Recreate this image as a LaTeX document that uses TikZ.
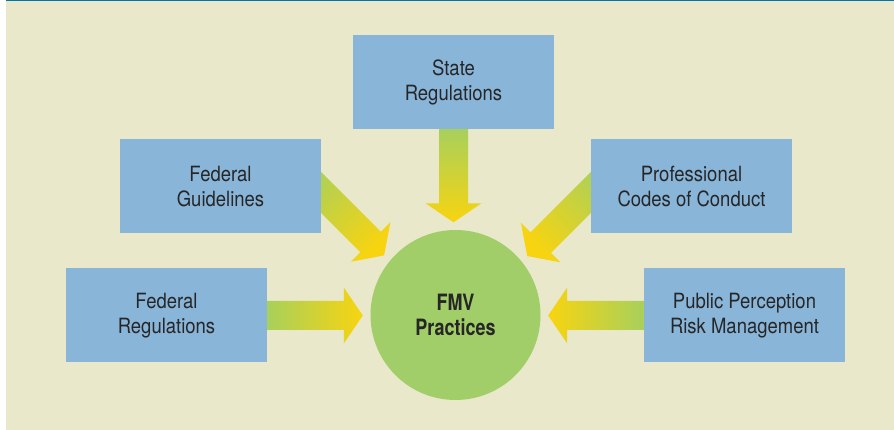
\documentclass[tikz,border=0pt]{standalone}
\usepackage{fontspec}
\setmainfont{TeX Gyre Heros}[FakeStretch=0.88, BoldFeatures={FakeStretch=0.8}]
\usetikzlibrary{calc,backgrounds}

\definecolor{panelbg}{RGB}{233,232,203}
\definecolor{panelrule}{RGB}{0,118,170}
\definecolor{boxblue}{RGB}{137,181,217}
\definecolor{discgreen}{RGB}{161,206,104}
\definecolor{flowgreen}{RGB}{168,208,92}
\definecolor{flowyellow}{RGB}{248,212,16}
\definecolor{labelgray}{RGB}{38,38,38}

\tikzset{
    inputbox/.style={rectangle, fill=boxblue, minimum width=201pt, minimum height=94pt,
        inner sep=0pt, align=center, text=labelgray, font=\fontsize{21}{25}\selectfont},
    practice/.style={circle, fill=discgreen, minimum size=170pt, inner sep=0pt,
        align=center, text=labelgray, font=\fontsize{22.5}{25}\selectfont\bfseries},
    flow/.style={top color=flowgreen, bottom color=flowyellow}
}

% fat shaded arrow: #1 heading, #2 tail, #3 tip
\newcommand{\flowarrow}[3]{%
    \pgfmathsetmacro{\flowshade}{#1+90}%
    \path[flow, shading angle=\flowshade] let \p1=(#2), \p2=(#3), \n1={veclen(\x2-\x1,\y2-\y1)} in
        {[shift={(\p1)}, rotate=#1] (0,-14.5) -- (\n1-19,-14.5) -- (\n1-19,-28) -- (\n1,0)
        -- (\n1-19,28) -- (\n1-19,14.5) -- (0,14.5) -- cycle};
}

\begin{document}
\begin{tikzpicture}[x=1pt,y=1pt]
    \useasboundingbox (0,0) rectangle (894,430);

    \node[inputbox] (statereg) at (453.5,348) {State\\Regulations};
    \node[inputbox] (fedguide) at (220.5,243.5) {Federal\\Guidelines};
    \node[inputbox] (profcode) at (691.5,243.5) {Professional\\Codes of Conduct};
    \node[inputbox] (fedreg) at (166.5,114.5) {Federal\\Regulations};
    \node[inputbox] (publicrisk) at (744.5,114.5) {Public Perception\\Risk Management};
    \node[practice] (fmv) at (455.5,115) {FMV\\Practices};

    \begin{scope}[on background layer]
        \fill[panelbg] (6,0) rectangle (894,430);
        \fill[panelrule] (6,428.5) rectangle (894,430);
        \flowarrow{-90}{statereg.south}{$(statereg.south |- fmv.north)+(0,7.5)$}
        \flowarrow{-45}{$(fedguide.east)+(-20,14)$}{$(fmv.center)+(-71.5,59)$}
        \flowarrow{-135}{$(profcode.west)+(20,14)$}{$(fmv.center)+(71.5,59)$}
        \flowarrow{0}{fedreg.east}{$(fmv.west)+(-7.5,0)$}
        \flowarrow{180}{publicrisk.west}{$(fmv.east)+(7.5,0)$}
    \end{scope}
\end{tikzpicture}
\end{document}
